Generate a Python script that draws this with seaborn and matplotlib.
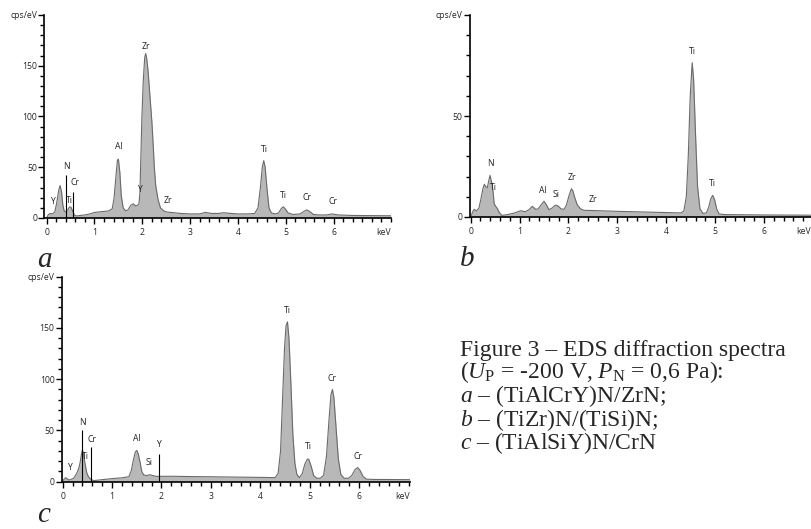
import numpy as np
import pandas as pd
import seaborn as sns
import matplotlib.pyplot as plt
from matplotlib.ticker import MultipleLocator, FixedLocator, FixedFormatter

# spectrum a - (TiAlCrY)N/ZrN (keV, cps/eV)
energy_a = [0.00, 0.03, 0.07, 0.12, 0.17, 0.21, 0.25, 0.28, 0.31, 0.34, 0.37, 0.40, 0.44, 0.48,
            0.51, 0.54, 0.58, 0.62, 0.70, 0.80, 0.90, 1.00, 1.10, 1.20, 1.30, 1.37, 1.41, 1.45,
            1.48, 1.50, 1.53, 1.56, 1.60, 1.65, 1.70, 1.76, 1.81, 1.86, 1.90, 1.93, 1.95, 1.97,
            1.99, 2.02, 2.05, 2.07, 2.09, 2.12, 2.16, 2.20, 2.23, 2.25, 2.28, 2.33, 2.38, 2.45,
            2.50, 2.60, 2.70, 2.80, 3.00, 3.20, 3.32, 3.45, 3.60, 3.70, 3.85, 4.00, 4.20, 4.35,
            4.42, 4.47, 4.51, 4.54, 4.57, 4.61, 4.65, 4.70, 4.78, 4.85, 4.91, 4.95, 4.99, 5.05,
            5.15, 5.30, 5.38, 5.44, 5.50, 5.58, 5.70, 5.85, 5.97, 6.10, 6.40, 7.20]
counts_a = [0, 3, 4.5, 4, 6, 15, 27, 32, 26, 12, 6.5, 6, 8, 11,
            10.5, 7, 3, 2, 2.5, 3, 4, 5.5, 6, 6.5, 7, 9, 20, 42,
            57, 58, 45, 22, 10, 7, 8, 12.5, 14, 12, 12.5, 14, 25, 60,
            97, 135, 158, 162, 158, 145, 120, 95, 70, 51, 32, 18, 10, 7,
            6, 5.5, 5, 4.5, 4, 4, 5.5, 4.5, 4.5, 5.2, 4.5, 4, 4, 4.5,
            10, 30, 50, 56.5, 50, 28, 10, 5, 4, 5, 9.5, 11, 9, 5,
            3.5, 4, 6.5, 8, 6.5, 3.5, 3, 3, 4, 3, 2.5, 2.2]

# spectrum b - (TiZr)N/(TiSi)N
energy_b = [0.00, 0.04, 0.07, 0.12, 0.17, 0.21, 0.25, 0.28, 0.31, 0.34, 0.37, 0.395, 0.42, 0.44,
            0.46, 0.48, 0.52, 0.55, 0.59, 0.64, 0.75, 0.90, 1.02, 1.12, 1.20, 1.26, 1.33, 1.38,
            1.44, 1.50, 1.55, 1.60, 1.67, 1.73, 1.78, 1.85, 1.91, 1.96, 2.01, 2.06, 2.09, 2.13,
            2.18, 2.25, 2.32, 2.50, 3.00, 3.50, 4.00, 4.30, 4.36, 4.41, 4.45, 4.49, 4.53, 4.56,
            4.60, 4.64, 4.69, 4.75, 4.82, 4.87, 4.91, 4.95, 4.99, 5.03, 5.08, 5.20, 6.00, 6.95]
counts_b = [0, 2.5, 3.8, 3, 4.5, 9, 14, 16.2, 15, 14.5, 18, 20.6, 18, 16,
            12, 6.5, 5, 4, 2, 0.8, 1.2, 2, 3.1, 2.6, 3.8, 5.3, 3.8, 4,
            6, 7.8, 6, 3.6, 4.5, 5.8, 5.6, 4, 3.8, 6, 10.5, 14, 13, 9.5,
            6, 4, 3.3, 3.2, 2.8, 2.5, 2.2, 2.0, 3, 10, 30, 60, 76.4, 68,
            40, 15, 4, 1.8, 2, 5, 9, 10.7, 8.5, 4, 1.5, 1.2, 1.0, 0.9]

# spectrum c - (TiAlSiY)N/CrN
energy_c = [0.00, 0.03, 0.06, 0.10, 0.13, 0.18, 0.22, 0.27, 0.30, 0.33, 0.35, 0.38, 0.40, 0.42,
            0.44, 0.47, 0.49, 0.52, 0.55, 0.62, 0.80, 1.00, 1.20, 1.34, 1.39, 1.43, 1.47, 1.50,
            1.53, 1.57, 1.60, 1.64, 1.70, 1.77, 1.82, 1.90, 2.20, 2.60, 3.00, 3.50, 4.00, 4.30,
            4.36, 4.41, 4.45, 4.49, 4.52, 4.55, 4.58, 4.62, 4.66, 4.70, 4.74, 4.79, 4.85, 4.90,
            4.95, 4.98, 5.03, 5.08, 5.14, 5.21, 5.28, 5.34, 5.39, 5.43, 5.46, 5.49, 5.53, 5.58,
            5.63, 5.70, 5.78, 5.85, 5.92, 5.97, 6.02, 6.08, 6.15, 6.30, 7.03]
counts_c = [0.7, 2.5, 3.9, 2.5, 1.6, 2.5, 3.3, 7, 9.8, 14, 18, 27, 31, 27,
            21, 13, 8.2, 5, 3.3, 1, 2, 3, 3.8, 4.9, 11, 21, 29, 30.5,
            27, 18, 10, 6.6, 6, 6.8, 6, 5.2, 5.3, 5, 4.8, 4.5, 4.2, 4,
            8, 30, 80, 130, 152, 156, 140, 95, 45, 18, 7, 4, 8, 17,
            22, 22, 15, 6, 3.5, 3.3, 6, 25, 60, 85, 90, 82, 55, 22,
            7, 3.3, 3.3, 6, 12, 13.8, 11, 5, 2.5, 2.2, 2]

# element labels (text, keV, cps/eV)
labels_a = [("Y", 0.125, 16), ("N", 0.41, 51), ("Ti", 0.47, 17.5), ("Cr", 0.59, 34.5),
            ("Al", 1.50, 70), ("Y", 1.94, 28), ("Zr", 2.07, 169), ("Zr", 2.53, 17),
            ("Ti", 4.55, 67), ("Ti", 4.96, 22), ("Cr", 5.45, 20), ("Cr", 5.98, 16)]
labels_b = [("N", 0.395, 26.4), ("Ti", 0.47, 14.4), ("Al", 1.48, 13.2), ("Si", 1.74, 11.2),
            ("Zr", 2.06, 19.5), ("Zr", 2.50, 8.6), ("Ti", 4.53, 81.7), ("Ti", 4.95, 16.5)]
labels_c = [("Y", 0.13, 14), ("N", 0.40, 58), ("Ti", 0.47, 24.6), ("Cr", 0.59, 41.6),
            ("Al", 1.50, 42.6), ("Si", 1.75, 19), ("Y", 1.93, 36), ("Ti", 4.55, 167),
            ("Ti", 4.97, 34.4), ("Cr", 5.46, 100.7), ("Cr", 5.98, 24.6)]

# marker lines (keV, height)
lines_a = [(0.40, 42), (0.56, 26)]
lines_b = []
lines_c = [(0.40, 50), (0.57, 33.8), (1.94, 27.5)]

caption = ["Figure 3 – EDS diffraction spectra",
           r"($U_{\mathrm{P}}$ = -200 V, $P_{\mathrm{N}}$ = 0,6 Pa):",
           r"$a$ – (TiAlCrY)N/ZrN;",
           r"$b$ – (TiZr)N/(TiSi)N;",
           r"$c$ – (TiAlSiY)N/CrN"]

sns.set_theme(style="ticks")
plt.rcParams['font.family'] = ['Open Sans', 'DejaVu Sans']
plt.rcParams['mathtext.fontset'] = 'custom'
plt.rcParams['mathtext.rm'] = 'Liberation Serif'
plt.rcParams['mathtext.it'] = 'Liberation Serif:italic'

W, H = 811, 529
fig = plt.figure(figsize=(W / 100, H / 100), dpi=100)

fill_col = '#b8b8b8'
edge_col = '#6a6a6a'
small = 6.2


def draw_panel(rect_px, xlim, ymax, energy, counts, labels, lines):
    x0, y0, x1, y1 = rect_px
    ax = fig.add_axes([x0 / W, 1 - y1 / H, (x1 - x0) / W, (y1 - y0) / H])
    df = pd.DataFrame({'keV': energy, 'cps': counts})
    ax.fill_between(df['keV'], 0, df['cps'], color=fill_col, lw=0, zorder=1)
    sns.lineplot(data=df, x='keV', y='cps', ax=ax, color=edge_col, lw=0.8, zorder=2)
    for xe, h in lines:
        ax.vlines(xe, 0, h, color='black', lw=0.8, zorder=3)
    for t, xe, ye in labels:
        ax.text(xe, ye, t, ha='center', va='center', fontsize=small, color='#222222')

    ax.set_xlim(*xlim)
    ax.set_ylim(0, ymax)
    ax.set_xlabel('')
    ax.set_ylabel('')
    sns.despine(ax=ax)
    for s in ('left', 'bottom'):
        ax.spines[s].set_linewidth(1.2)
        ax.spines[s].set_color('black')

    yt = list(range(0, ymax + 1, 50))
    ax.yaxis.set_major_locator(FixedLocator(yt))
    ax.yaxis.set_major_formatter(FixedFormatter([str(v) for v in yt[:-1]] + ['cps/eV']))
    ax.yaxis.set_minor_locator(MultipleLocator(10))
    ax.xaxis.set_major_locator(FixedLocator(range(0, 7)))
    ax.xaxis.set_minor_locator(MultipleLocator(0.2))
    ax.tick_params(which='major', length=4, width=1, labelsize=small, pad=1.2, color='black')
    ax.tick_params(which='minor', length=2.6, width=1, color='black')
    ax.tick_params(axis='x', which='major', length=4.2, pad=3)
    ax.annotate('keV', xy=(1, 0), xycoords='axes fraction', xytext=(0, -7.2),
                textcoords='offset points', ha='right', va='top', fontsize=small)
    ax.patch.set_alpha(0)
    return ax


draw_panel((44.3, 15, 390.9, 218), (-0.05, 7.2), 200, energy_a, counts_a, labels_a, lines_a)
draw_panel((469.7, 15, 810.5, 217), (-0.02, 6.95), 100, energy_b, counts_b, labels_b, lines_b)
draw_panel((61.7, 276.7, 410, 481.7), (-0.02, 7.03), 200, energy_c, counts_c, labels_c, lines_c)

serif = ['Liberation Serif', 'DejaVu Serif']
for t, (px, py) in zip(['a', 'b', 'c'], [(37, 267), (460, 266), (37, 522)]):
    fig.text(px / W, 1 - py / H, t, family=serif, style='italic', fontsize=21,
             ha='left', va='baseline')

# caption as one block so the tight line spacing of the original is kept
# (baseline alignment refers to the last line)
fig.text(460.5 / W, 1 - 449.5 / H, "\n".join(caption), family=serif, fontsize=17,
         ha='left', va='baseline', linespacing=0.89)

fig.savefig('out.png', dpi=100)
